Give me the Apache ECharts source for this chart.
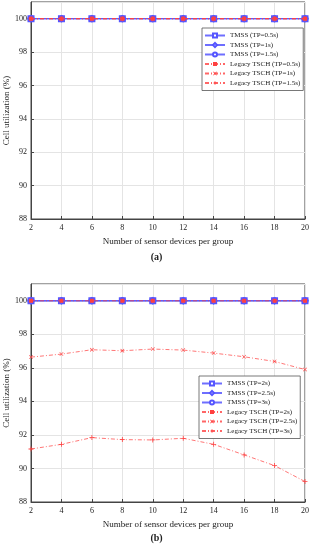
<!DOCTYPE html>
<html>
<head>
<meta charset="utf-8">
<script src="https://cdn.jsdelivr.net/npm/echarts@6/dist/echarts.min.js"></script>
<style>html,body{margin:0;padding:0;background:#fff;}#c{width:313px;height:550px;}</style>
</head>
<body>
<div id="c"></div>
<script>
var xValues = [2, 4, 6, 8, 10, 12, 14, 16, 18, 20];
var yTicks = [88, 90, 92, 94, 96, 98, 100];

var namesA = ['TMSS (TP=0.5s)', 'TMSS (TP=1s)', 'TMSS (TP=1.5s)', 'Legacy TSCH (TP=0.5s)', 'Legacy TSCH (TP=1s)', 'Legacy TSCH (TP=1.5s)'];
var tmssA05 = [100, 100, 100, 100, 100, 100, 100, 100, 100, 100];
var tmssA1 = [100, 100, 100, 100, 100, 100, 100, 100, 100, 100];
var tmssA15 = [100, 100, 100, 100, 100, 100, 100, 100, 100, 100];
var legA05 = [100, 100, 100, 100, 100, 100, 100, 100, 100, 100];
var legA1 = [100, 100, 100, 100, 100, 100, 100, 100, 100, 100];
var legA15 = [100, 100, 100, 100, 100, 100, 100, 100, 100, 100];

var namesB = ['TMSS (TP=2s)', 'TMSS (TP=2.5s)', 'TMSS (TP=3s)', 'Legacy TSCH (TP=2s)', 'Legacy TSCH (TP=2.5s)', 'Legacy TSCH (TP=3s)'];
var tmssB2 = [100, 100, 100, 100, 100, 100, 100, 100, 100, 100];
var tmssB25 = [100, 100, 100, 100, 100, 100, 100, 100, 100, 100];
var tmssB3 = [100, 100, 100, 100, 100, 100, 100, 100, 100, 100];
var legB2 = [100, 100, 100, 100, 100, 100, 100, 100, 100, 100];
var legB25 = [96.64, 96.82, 97.08, 97.02, 97.12, 97.06, 96.88, 96.66, 96.38, 95.9];
var legB3 = [91.16, 91.44, 91.84, 91.72, 91.7, 91.8, 91.44, 90.81, 90.17, 89.22];

var FONT = '"Liberation Serif", "DejaVu Serif", serif';
var BLUE = '#5555ff';
var RED = '#ff4040';
var XSYM = 'path://M1,0 L5,4 L9,0 L10,1 L6,5 L10,9 L9,10 L5,6 L1,10 L0,9 L4,5 L0,1 Z';
var PLUS = 'path://M4.2,0 L5.8,0 L5.8,4.2 L10,4.2 L10,5.8 L5.8,5.8 L5.8,10 L4.2,10 L4.2,5.8 L0,5.8 L0,4.2 L4.2,4.2 Z';

function pts(arr) { return xValues.map(function (x, i) { return [x, arr[i]]; }); }

function tmss(name, data, sym, idx) {
  return {
    name: name, type: 'line', xAxisIndex: idx, yAxisIndex: idx, data: pts(data),
    symbol: sym, symbolSize: 5, showSymbol: true,
    lineStyle: { color: BLUE, width: 1, opacity: 0.85 },
    itemStyle: { color: BLUE, borderColor: BLUE, borderWidth: 1 },
    animation: false, z: 2
  };
}
function legacy(name, data, sym, size, idx) {
  return {
    name: name, type: 'line', xAxisIndex: idx, yAxisIndex: idx, data: pts(data),
    symbol: sym, symbolSize: size, showSymbol: true,
    lineStyle: { color: RED, width: 0.9, type: [4, 2, 1, 2], opacity: 0.8 },
    itemStyle: { color: RED, borderColor: RED, borderWidth: 0 },
    animation: false, z: 3
  };
}

function xAxis(idx) {
  return {
    type: 'value', gridIndex: idx, min: 2, max: 20, interval: 2,
    name: 'Number of sensor devices per group', nameLocation: 'middle', nameGap: 18,
    nameTextStyle: { fontFamily: FONT, fontSize: 9, color: '#222' },
    axisLine: { show: true, lineStyle: { color: '#444', width: 1 } },
    axisTick: { show: true, inside: true, length: 3, lineStyle: { color: '#444' } },
    axisLabel: { fontFamily: FONT, fontSize: 8, color: '#222', margin: 5 },
    splitLine: { show: true, lineStyle: { color: '#e4e4e4', width: 1 } }
  };
}
function yAxis(idx) {
  return {
    type: 'value', gridIndex: idx, min: 88, max: 101, interval: 2,
    name: 'Cell utilization (%)', nameLocation: 'middle', nameGap: 20, nameMoveOverlap: false,
    nameTextStyle: { fontFamily: FONT, fontSize: 9, color: '#222' },
    axisLine: { show: true, lineStyle: { color: '#444', width: 1 } },
    axisTick: { show: true, inside: true, length: 3, lineStyle: { color: '#444' } },
    axisLabel: { fontFamily: FONT, fontSize: 8, color: '#222', margin: 4, showMaxLabel: false,
      formatter: function (v) { return yTicks.indexOf(v) >= 0 ? String(v) : ''; } },
    splitLine: { show: true, lineStyle: { color: '#e4e4e4', width: 1 } }
  };
}
function legend(names, left, top) {
  return {
    orient: 'vertical', left: left, top: top, data: names,
    backgroundColor: '#fff', borderColor: '#555', borderWidth: 0.8,
    padding: [4, 3, 4, 2], itemWidth: 20, itemHeight: 5, itemGap: 2.5, symbolKeepAspect: true,
    textStyle: { fontFamily: FONT, fontSize: 7, color: '#222', lineHeight: 6, padding: [0, 0, 0, 0] },
    selectedMode: false
  };
}

var chart = echarts.init(document.getElementById('c'), null, { renderer: 'canvas' });
chart.setOption({
  backgroundColor: '#fff',
  animation: false,
  grid: [
    { left: 31, right: 8, top: 2, height: 217, show: true, borderColor: '#444', borderWidth: 1, backgroundColor: 'transparent', outerBoundsMode: 'none', containLabel: false },
    { left: 31, right: 8, top: 284, height: 218, show: true, borderColor: '#444', borderWidth: 1, backgroundColor: 'transparent', outerBoundsMode: 'none', containLabel: false }
  ],
  xAxis: [xAxis(0), xAxis(1)],
  yAxis: [yAxis(0), yAxis(1)],
  legend: [legend(namesA, 202, 28), legend(namesB, 199, 376)],
  series: [
    tmss(namesA[0], tmssA05, 'emptyRect', 0),
    tmss(namesA[1], tmssA1, 'emptyDiamond', 0),
    tmss(namesA[2], tmssA15, 'emptyCircle', 0),
    legacy(namesA[3], legA05, 'rect', 4, 0),
    legacy(namesA[4], legA1, XSYM, 4, 0),
    legacy(namesA[5], legA15, PLUS, 5, 0),
    tmss(namesB[0], tmssB2, 'emptyRect', 1),
    tmss(namesB[1], tmssB25, 'emptyDiamond', 1),
    tmss(namesB[2], tmssB3, 'emptyCircle', 1),
    legacy(namesB[3], legB2, 'rect', 4, 1),
    legacy(namesB[4], legB25, XSYM, 4, 1),
    legacy(namesB[5], legB3, PLUS, 5, 1)
  ],
  graphic: [
    { type: 'text', left: 'center', top: 252, style: { text: '(a)', fontFamily: FONT, fontSize: 10, fontWeight: 'bold', fill: '#222' } },
    { type: 'text', left: 'center', top: 533, style: { text: '(b)', fontFamily: FONT, fontSize: 10, fontWeight: 'bold', fill: '#222' } }
  ]
});
</script>
</body>
</html>
